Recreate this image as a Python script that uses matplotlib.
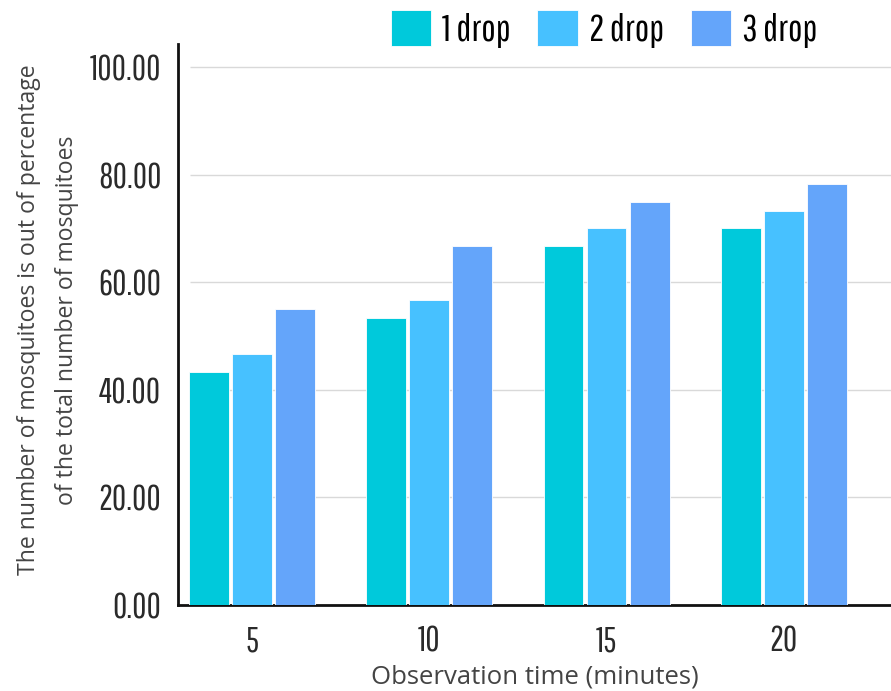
import matplotlib
matplotlib.use("Agg")
import matplotlib.pyplot as plt
import numpy as np

# Observation times (minutes) and percentage of mosquitoes per dose
times = ["5", "10", "15", "20"]
series_names = ["1 drop", "2 drop", "3 drop"]
drop1 = [43.33, 53.33, 66.67, 70.00]
drop2 = [46.67, 56.67, 70.00, 73.33]
drop3 = [55.00, 66.67, 75.00, 78.33]
y_ticks = [0, 20, 40, 60, 80, 100]

colors = ["#00C9DB", "#47C1FF", "#64A5FA"]
narrow = ["Pathway Gothic One", "Roboto Condensed", "DejaVu Sans"]
label_font = ["Open Sans", "DejaVu Sans"]

fig = plt.figure(figsize=(8.91, 6.91), dpi=100)
ax = fig.add_axes([178 / 891, 86 / 691, 1 - 178 / 891, (605 - 44) / 691])

x = np.arange(len(times))
width = 0.225
step = 0.243
for i, (vals, name, c) in enumerate(zip([drop1, drop2, drop3], series_names, colors)):
    ax.bar(x + (i - 1) * step, vals, width, color=c, label=name,
           edgecolor="white", linewidth=0.6, zorder=3)

x_lo, x_hi = -0.418, 3.605
ax.set_xlim(x_lo, x_hi)
ax.set_ylim(0, 104.3)
ax.set_yticks(y_ticks)
ax.set_yticklabels([f"{v:.2f}" for v in y_ticks], fontfamily=narrow, fontsize=25, color="#2a2a2a")
ax.set_xticks(x)
ax.set_xticklabels(times, fontfamily=narrow, fontsize=25, color="#2a2a2a")
ax.tick_params(axis="both", length=0)
ax.tick_params(axis="y", pad=12)
ax.tick_params(axis="x", pad=14)

# light horizontal guides that stop short of the y axis
ax.hlines(y_ticks[1:], -0.35, x_hi, colors="#d9d9d9", linewidth=1, zorder=0)
for s in ["top", "right"]:
    ax.spines[s].set_visible(False)
for s in ["left", "bottom"]:
    ax.spines[s].set_linewidth(2)
    ax.spines[s].set_color("#111111")

ax.set_xlabel("Observation time (minutes)", fontfamily=label_font, fontsize=18.5,
              color="#444444", labelpad=5)
fig.text(48 / 891, 1 - 320 / 691,
         "The number of mosquitoes is out of percentage\nof the total number of mosquitoes",
         rotation=90, ha="center", va="center", fontfamily=label_font, fontsize=16.6,
         color="#444444", linespacing=1.75)

fig.legend(loc="upper left", bbox_to_anchor=(381 / 891, 1.0), ncol=3,
           frameon=False, prop={"family": narrow, "size": 27.5},
           handlelength=1.05, handleheight=1.1, handletextpad=0.3, columnspacing=0.7,
           borderaxespad=0.0, borderpad=0.25)

fig.savefig("out.png", dpi=100)
